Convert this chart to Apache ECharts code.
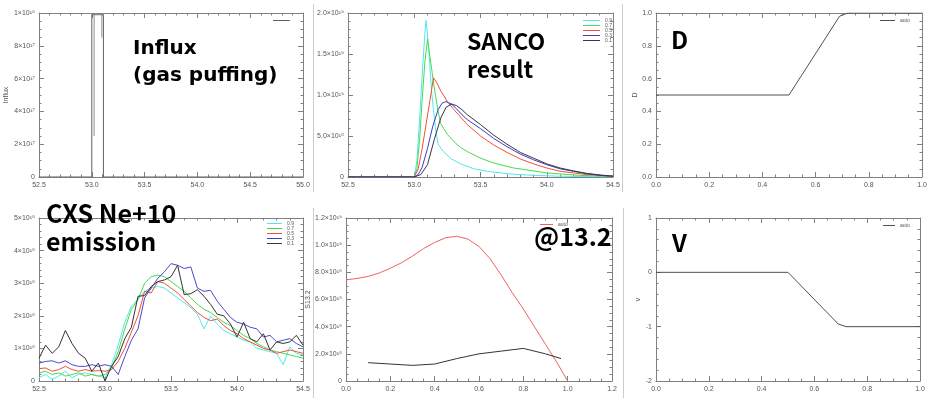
<!DOCTYPE html>
<html><head><meta charset="utf-8">
<script src="https://cdn.jsdelivr.net/npm/echarts@6/dist/echarts.min.js"></script>
<style>html,body{margin:0;padding:0;background:#fff}#c{width:935px;height:406px}</style>
</head><body><div id="c"></div>
<script>
// ---------- DATA ----------
// Panel 1: Influx (units 1e18)
const influxX = [52.5, 53.0, 53.0, 53.11, 53.11, 55.0];
const influxY = [0, 0, 0.99, 0.99, 0, 0];
const influxInnerX = [53.022, 53.022, 53.095, 53.095];
const influxInnerY = [0.25, 0.99, 0.99, 0.85];
const influxYLabels = ['0', '2×10¹⁷', '4×10¹⁷', '6×10¹⁷', '8×10¹⁷', '1×10¹⁸'];

// Panel 2: SANCO result (units 1e19)
const sanco09X = [52.5, 53.0, 53.02, 53.04, 53.06, 53.08, 53.09, 53.11, 53.13, 53.16, 53.18, 53.22, 53.28, 53.35, 53.45, 53.55, 53.7, 53.9, 54.1, 54.5];
const sanco09Y = [0, 0, 0.2, 0.7, 1.25, 1.75, 1.91, 1.55, 1.05, 0.6, 0.4, 0.31, 0.22, 0.16, 0.1, 0.07, 0.04, 0.02, 0.01, 0];
const sanco07X = [52.5, 53.0, 53.02, 53.04, 53.06, 53.08, 53.1, 53.12, 53.15, 53.18, 53.2, 53.25, 53.3, 53.35, 53.4, 53.5, 53.6, 53.75, 54.0, 54.25, 54.5];
const sanco07Y = [0, 0, 0.1, 0.45, 0.95, 1.4, 1.68, 1.45, 1.1, 0.8, 0.65, 0.52, 0.43, 0.36, 0.31, 0.23, 0.17, 0.11, 0.05, 0.02, 0.005];
const sanco05X = [52.5, 53.0, 53.03, 53.06, 53.09, 53.12, 53.145, 53.17, 53.2, 53.25, 53.3, 53.35, 53.4, 53.5, 53.6, 53.7, 53.8, 53.9, 54.0, 54.1, 54.2, 54.3, 54.5];
const sanco05Y = [0, 0, 0.1, 0.35, 0.65, 0.95, 1.21, 1.15, 1.05, 0.92, 0.82, 0.73, 0.64, 0.5, 0.39, 0.3, 0.22, 0.16, 0.11, 0.07, 0.05, 0.03, 0.01];
const sanco03X = [52.5, 53.0, 53.03, 53.06, 53.1, 53.14, 53.18, 53.21, 53.24, 53.28, 53.32, 53.36, 53.4, 53.5, 53.6, 53.7, 53.8, 53.9, 54.0, 54.1, 54.2, 54.3, 54.4, 54.5];
const sanco03Y = [0, 0, 0.03, 0.12, 0.35, 0.62, 0.82, 0.9, 0.92, 0.89, 0.83, 0.76, 0.7, 0.59, 0.47, 0.37, 0.28, 0.21, 0.15, 0.1, 0.07, 0.04, 0.02, 0.01];
const sanco01X = [52.5, 53.0, 53.05, 53.1, 53.15, 53.2, 53.24, 53.28, 53.32, 53.36, 53.4, 53.5, 53.6, 53.7, 53.8, 53.9, 54.0, 54.1, 54.2, 54.3, 54.4, 54.5];
const sanco01Y = [0, 0, 0.03, 0.15, 0.45, 0.72, 0.85, 0.89, 0.87, 0.82, 0.76, 0.64, 0.51, 0.4, 0.3, 0.23, 0.16, 0.11, 0.075, 0.045, 0.025, 0.01];
const sancoYLabels = ['0', '5.0×10¹⁸', '1.0×10¹⁹', '1.5×10¹⁹', '2.0×10¹⁹'];

// Panel 3: D
const dX = [0, 0.5, 0.69, 0.72, 1.0];
const dY = [0.5, 0.5, 0.98, 1.0, 1.0];

// Panel 4: CXS Ne+10 emission (units 1e18)
const cxsX = [52.50, 52.55, 52.60, 52.65, 52.70, 52.75, 52.80, 52.85, 52.90, 52.95, 53.00, 53.05, 53.10, 53.15, 53.20, 53.25, 53.30, 53.35, 53.40, 53.45, 53.50, 53.55, 53.60, 53.65, 53.70, 53.75, 53.80, 53.85, 53.90, 53.95, 54.00, 54.05, 54.10, 54.15, 54.20, 54.25, 54.30, 54.35, 54.40, 54.45, 54.50];
const cxs09 = [0.10, 0.20, 0.05, 0.15, 0.30, 0.10, 0.20, 0.25, 0.20, 0.15, 0.10, 0.50, 1.10, 1.80, 2.30, 2.50, 2.75, 2.85, 2.90, 2.85, 2.70, 2.55, 2.40, 2.25, 2.05, 1.60, 2.00, 1.75, 1.55, 1.45, 1.35, 1.25, 1.20, 1.00, 0.95, 0.90, 0.85, 0.50, 1.05, 0.85, 0.80];
const cxs07 = [0.25, 0.30, 0.20, 0.25, 0.15, 0.20, 0.25, 0.15, 0.20, 0.15, 0.20, 0.40, 0.90, 1.60, 2.20, 2.50, 3.00, 3.20, 3.25, 3.20, 3.05, 2.90, 2.75, 2.55, 2.35, 2.20, 2.10, 1.95, 1.80, 1.70, 1.55, 1.40, 1.30, 1.15, 1.05, 0.95, 0.90, 0.85, 0.80, 0.75, 0.70];
const cxs05 = [0.38, 0.40, 0.30, 0.35, 0.45, 0.35, 0.30, 0.35, 0.30, 0.32, 0.30, 0.35, 0.60, 1.00, 1.50, 2.00, 2.75, 2.70, 3.05, 3.00, 2.85, 2.70, 2.50, 2.30, 2.10, 1.95, 1.85, 1.90, 1.70, 1.55, 1.45, 1.30, 1.20, 1.10, 1.00, 0.95, 0.85, 0.90, 0.95, 0.90, 0.85];
const cxs03 = [0.55, 0.60, 0.62, 0.55, 0.62, 0.50, 0.45, 0.45, 0.50, 0.45, 0.50, 0.45, 0.20, 0.75, 1.25, 1.60, 2.55, 2.85, 3.15, 3.35, 3.60, 3.55, 3.45, 3.50, 2.85, 2.75, 2.78, 2.45, 2.20, 1.95, 1.80, 1.75, 1.65, 1.60, 1.35, 1.40, 1.20, 1.25, 1.30, 1.15, 1.05];
const cxs01 = [0.70, 1.10, 0.85, 1.05, 1.55, 1.15, 0.85, 0.70, 0.30, 0.55, 0.00, 0.45, 0.75, 1.30, 1.65, 2.60, 2.62, 2.90, 3.05, 3.10, 3.20, 3.55, 2.65, 2.68, 2.80, 2.60, 2.35, 2.05, 2.00, 1.75, 1.35, 1.80, 1.30, 1.20, 1.45, 0.95, 1.20, 1.15, 1.20, 1.40, 1.10];
const cxsYLabels = ['0', '1×10¹⁸', '2×10¹⁸', '3×10¹⁸', '4×10¹⁸', '5×10¹⁸'];

// Panel 5: @13.2 (units 1e19)
const sxrRedX = [0, 0.05, 0.1, 0.15, 0.2, 0.25, 0.3, 0.35, 0.4, 0.45, 0.5, 0.55, 0.6, 0.65, 0.7, 0.75, 0.8, 0.85, 0.9, 0.95, 1.0];
const sxrRedY = [0.745, 0.755, 0.77, 0.795, 0.83, 0.87, 0.92, 0.975, 1.02, 1.055, 1.065, 1.045, 0.99, 0.90, 0.78, 0.65, 0.53, 0.40, 0.27, 0.14, 0.0];
const sxrBlackX = [0.1, 0.2, 0.3, 0.4, 0.5, 0.6, 0.7, 0.8, 0.9, 0.97];
const sxrBlackY = [0.135, 0.125, 0.115, 0.125, 0.165, 0.20, 0.22, 0.24, 0.20, 0.165];
const sxrYLabels = ['0', '2.0×10¹⁸', '4.0×10¹⁸', '6.0×10¹⁸', '8.0×10¹⁸', '1.0×10¹⁹', '1.2×10¹⁹'];

// Panel 6: V
const vX = [0, 0.5, 0.69, 0.72, 1.0];
const vY = [0, 0, -0.95, -1.0, -1.0];

const legendNames = ['0.9', '0.7', '0.5', '0.3', '0.1'];

// ---------- STYLE ----------
const FRAME = '#808080';
const LABEL = '#555';
const FONT = 'Liberation Sans, Arial, sans-serif';
const BIG = '"Noto Sans CJK KR", "Noto Sans", sans-serif';
const WIDE = '"DejaVu Sans", sans-serif';

const grids = [
  {left: 39, top: 13, width: 264, height: 164},
  {left: 348, top: 13, width: 265, height: 164},
  {left: 656, top: 13, width: 266, height: 164},
  {left: 39, top: 218, width: 264, height: 163},
  {left: 346, top: 218, width: 266, height: 163},
  {left: 656, top: 218, width: 264, height: 163}
];

function fixed1(v) { return v.toFixed(1); }
function fromList(list, step) { return v => list[Math.round(v / step)] || ''; }

const xAxes = [], yAxes = [];
function axes(kind, gi, min, max, interval, minor, fmt, name, nameGap) {
  const arr = kind === 'x' ? xAxes : yAxes;
  const base = {
    type: 'value', gridIndex: gi, min: min, max: max, interval: interval,
    splitLine: {show: false},
    axisLine: {show: true, onZero: false, lineStyle: {color: FRAME, width: 1}},
    axisTick: {show: true, inside: true, length: 5, lineStyle: {color: FRAME}},
    minorTick: {show: true, splitNumber: minor, length: 2.5, lineStyle: {color: FRAME}},
    minorSplitLine: {show: false}
  };
  arr.push(Object.assign({}, base, {
    position: kind === 'x' ? 'bottom' : 'left',
    axisLabel: {show: true, fontSize: 7, color: LABEL, fontFamily: FONT, margin: kind === 'x' ? 5 : 4, formatter: fmt, hideOverlap: false},
    name: name || '', nameLocation: 'middle', nameGap: nameGap || 20, nameRotate: kind === 'y' ? 90 : 0,
    nameTextStyle: {fontSize: 7, color: LABEL, fontFamily: FONT}
  }));
  arr.push(Object.assign({}, base, {
    position: kind === 'x' ? 'top' : 'right',
    axisLabel: {show: false}
  }));
  return arr.length - 2;
}

const X = [], Y = [];
X[0] = axes('x', 0, 52.5, 55.0, 0.5, 5, fixed1);
Y[0] = axes('y', 0, 0, 1.0, 0.2, 4, fromList(influxYLabels, 0.2), 'Influx', 23);
X[1] = axes('x', 1, 52.5, 54.5, 0.5, 5, fixed1);
Y[1] = axes('y', 1, 0, 2.0, 0.5, 5, fromList(sancoYLabels, 0.5));
X[2] = axes('x', 2, 0, 1.0, 0.2, 4, fixed1);
Y[2] = axes('y', 2, 0, 1.0, 0.2, 4, fixed1, 'D', 14);
X[3] = axes('x', 3, 52.5, 54.5, 0.5, 5, fixed1);
Y[3] = axes('y', 3, 0, 5, 1, 5, fromList(cxsYLabels, 1));
X[4] = axes('x', 4, 0, 1.2, 0.2, 4, fixed1);
Y[4] = axes('y', 4, 0, 1.2, 0.2, 4, fromList(sxrYLabels, 0.2), 'S13.2', 22);
X[5] = axes('x', 5, 0, 1.0, 0.2, 4, fixed1);
Y[5] = axes('y', 5, -2, 1, 1, 5, v => String(v), 'v', 12);

function zip(xs, ys) { return xs.map((x, i) => [x, ys[i]]); }
function line(name, p, xs, ys, color, width) {
  return {
    type: 'line', name: name, xAxisIndex: X[p], yAxisIndex: Y[p],
    data: zip(xs, ys), showSymbol: false, symbol: 'none', silent: true,
    lineStyle: {color: color, width: width || 1}, itemStyle: {color: color},
    z: 3, animation: false
  };
}

const C = {c09: '#4fe8ee', c07: '#4cd84c', c05: '#f0503c', c03: '#3c3cc8', c01: '#34384a'};

const series = [
  line('influx', 0, influxX, influxY, '#606060'),
  line('', 0, influxInnerX, influxInnerY, '#909090'),
  line('0.9', 1, sanco09X, sanco09Y, C.c09),
  line('0.7', 1, sanco07X, sanco07Y, C.c07),
  line('0.5', 1, sanco05X, sanco05Y, C.c05),
  line('0.3', 1, sanco03X, sanco03Y, C.c03),
  line('0.1', 1, sanco01X, sanco01Y, C.c01),
  line('auto', 2, dX, dY, '#505050'),
  line('0.9', 3, cxsX, cxs09, C.c09),
  line('0.7', 3, cxsX, cxs07, C.c07),
  line('0.5', 3, cxsX, cxs05, C.c05),
  line('0.3', 3, cxsX, cxs03, '#4a4ad0'),
  line('0.1', 3, cxsX, cxs01, '#333333'),
  line('auto ', 4, sxrRedX, sxrRedY, '#f06060'),
  line('', 4, sxrBlackX, sxrBlackY, '#333333'),
  line('auto  ', 5, vX, vY, '#505050')
];

function legend(names, left, top, w, fmt) {
  return {
    data: names, left: left, top: top, orient: 'vertical', itemGap: 0,
    itemWidth: w, itemHeight: 1, icon: 'rect', padding: 0, selectedMode: false,
    formatter: fmt || (n => n),
    textStyle: {fontSize: 5, lineHeight: 5, color: LABEL, fontFamily: FONT, padding: [0, 0, 0, 0]}
  };
}

const legends = [
  legend(['influx'], 273, 20, 17, () => ''),
  legend(legendNames, 583, 18, 17),
  legend(['auto'], 880, 18, 15),
  legend(legendNames, 267, 221, 15),
  legend(['auto '], 540, 222, 13),
  legend(['auto  '], 883, 223, 12)
];

function bigText(str, x, y, size, fam) {
  return {type: 'text', x: x, y: y, z: 100, silent: true,
    style: {text: str, fill: '#000', font: 'bold ' + size + 'px ' + (fam || BIG), verticalAlign: 'middle', align: 'left'}};
}
function sep(x, y1, y2) {
  return {type: 'line', z: 0, silent: true, shape: {x1: x, y1: y1, x2: x, y2: y2}, style: {stroke: '#cccccc', lineWidth: 1}};
}

const graphics = [
  sep(313.5, 4, 192), sep(622.5, 4, 192), sep(313.5, 208, 398), sep(623.5, 208, 398),
  bigText('Influx', 133, 49, 20, WIDE),
  bigText('(gas puffing)', 133, 76, 20, WIDE),
  bigText('SANCO', 467, 41, 23),
  bigText('result', 467, 69, 23),
  bigText('D', 671, 40, 24),
  bigText('CXS Ne+10', 46, 213, 25),
  bigText('emission', 46, 241, 25),
  bigText('@13.2', 534, 236, 25),
  bigText('V', 672, 243, 24)
];

const chart = echarts.init(document.getElementById('c'), null, {renderer: 'canvas'});
chart.setOption({
  animation: false,
  backgroundColor: '#ffffff',
  grid: grids,
  xAxis: xAxes,
  yAxis: yAxes,
  legend: legends,
  series: series,
  graphic: graphics
});
</script></body></html>
